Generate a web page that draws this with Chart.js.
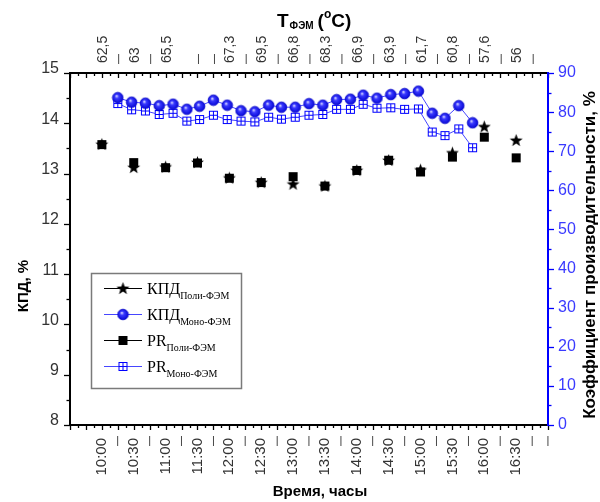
<!DOCTYPE html>
<html>
<head>
<meta charset="utf-8">
<script src="https://cdn.jsdelivr.net/npm/chart.js@4.4.1/dist/chart.umd.min.js"></script>
<style>
html,body{margin:0;padding:0;background:#ffffff;}
#box{position:relative;width:600px;height:502px;}
</style>
</head>
<body>
<div id="box"><canvas id="chart" width="600" height="502"></canvas></div>
<script>
// ---------------- data ----------------
const polyTimes = ['10:00','10:30','11:00','11:30','12:00','12:30','13:00','13:30','14:00','14:30','15:00','15:30','16:00','16:30'];
const kpdPoly = [13.58,13.12,13.13,13.22,12.91,12.82,12.79,12.75,13.06,13.26,13.07,13.41,13.93,13.66];
const prPoly  = [71.7,67.1,65.8,67.0,63.1,62.0,63.5,61.1,65.1,67.7,64.7,68.5,73.6,68.3];

const monoTimes = ['10:15','10:28','10:41','10:54','11:07','11:20','11:32','11:45','11:58','12:11','12:24','12:37','12:49','13:02','13:15','13:28','13:41','13:54','14:06','14:19','14:32','14:45','14:58','15:11','15:23','15:36','15:49'];
const kpdMono = [14.51,14.42,14.40,14.35,14.38,14.28,14.34,14.46,14.36,14.25,14.23,14.36,14.32,14.32,14.39,14.36,14.47,14.48,14.56,14.50,14.57,14.59,14.64,14.20,14.10,14.35,14.01];
const prMono  = [82.2,80.6,80.3,79.4,79.7,77.7,78.1,79.2,78.1,77.7,77.5,78.7,78.2,78.7,79.2,79.4,80.7,80.7,82.0,81.0,81.1,80.7,80.8,74.9,74.0,75.7,70.9];

const tickTimes    = ['10:00','10:15','10:30','10:45','11:00','11:15','11:30','11:45','12:00','12:15','12:30','12:45','13:00','13:15','13:30','13:45','14:00','14:15','14:30','14:45','15:00','15:15','15:30','15:45','16:00','16:15','16:30','16:45','17:00'];
const bottomLabels = ['10:00','|','10:30','|','11:00','|','11:30','|','12:00','|','12:30','|','13:00','|','13:30','|','14:00','|','14:30','|','15:00','|','15:30','|','16:00','|','16:30','|','|'];
const topLabels    = ['62,5','|','63','|','65,5','','|','|','67,3','|','69,5','|','66,8','|','68,3','|','66,9','|','63,9','|','61,7','|','60,8','|','57,6','|','56','|',''];

const seriesNames = ['КПД','КПД','PR','PR'];
const seriesSubs  = ['Поли-ФЭМ','Моно-ФЭМ','Поли-ФЭМ','Моно-ФЭМ'];

// ---------------- helpers ----------------
const toMin = t => { const [h,m] = t.split(':').map(Number); return h*60+m; };
const SANS = '"Liberation Sans", Arial, sans-serif';
const SERIF = '"Liberation Serif", "Times New Roman", serif';
const BLUE = '#0000ff';
const BLUE_LINE = '#4646ff';
const BLUE_TEXT = '#3a3aff';

function mk(w,h,fn){ const c=document.createElement('canvas'); c.width=w; c.height=h; fn(c.getContext('2d')); return c; }
const starImg = mk(15,15,g=>{
  g.fillStyle='#000'; g.beginPath();
  for(let i=0;i<10;i++){ const r = i%2===0?6.8:2.8; const a = -Math.PI/2 + i*Math.PI/5;
    g.lineTo(7.5+r*Math.cos(a), 7.8+r*Math.sin(a)); }
  g.closePath(); g.fill();
});
const sphereImg = mk(13,13,g=>{
  const gr = g.createRadialGradient(5.2,4.8,0.3,6.5,6.5,6);
  gr.addColorStop(0,'#d8d8ff'); gr.addColorStop(0.3,'#3a3aff'); gr.addColorStop(1,'#0000d0');
  g.fillStyle=gr; g.beginPath(); g.arc(6.5,6.5,5.3,0,Math.PI*2); g.fill();
  g.strokeStyle='#0000c8'; g.lineWidth=0.8; g.stroke();
});
const gridImg = mk(11,11,g=>{
  g.fillStyle='#fff'; g.fillRect(1,1,9,9);
  g.strokeStyle=BLUE; g.lineWidth=1;
  g.strokeRect(1.5,1.5,8,8);
  g.beginPath(); g.moveTo(5.5,1.5); g.lineTo(5.5,9.5); g.moveTo(1.5,5.5); g.lineTo(9.5,5.5); g.stroke();
});
const squareImg = mk(11,11,g=>{ g.fillStyle='#000'; g.fillRect(1,1,9,9); });

// rotated tick labels from Chart.js; the short separators '|' are written upright by the plugin
function labelFor(arr){
  return v => { const i = tickTimes.findIndex(t => toMin(t) === v); return (i >= 0 && arr[i] !== '|') ? arr[i] : ''; };
}

// ---------------- custom axes / titles / legend ----------------
const decor = {
  id: 'decor',
  afterDraw(chart){
    const {ctx, chartArea: a, scales} = chart;
    const xs = scales.x, yl = scales.yL, yr = scales.yR;
    ctx.save();
    ctx.strokeStyle = '#000'; ctx.lineWidth = 1.3;
    xs.ticks.forEach(t => {
      const px = Math.round(xs.getPixelForValue(t.value)) + 0.5;
      const major = t.value % 15 === 0;
      const len = major ? 5 : 3;
      ctx.beginPath(); ctx.moveTo(px, a.bottom); ctx.lineTo(px, a.bottom + len); ctx.stroke();
      ctx.beginPath(); ctx.moveTo(px, a.top); ctx.lineTo(px, a.top + len); ctx.stroke();
    });
    yl.ticks.forEach(t => {
      const py = Math.round(yl.getPixelForValue(t.value)) + 0.5;
      const major = Math.abs(t.value - Math.round(t.value)) < 1e-6;
      const len = major ? 6 : 3.5;
      ctx.beginPath(); ctx.moveTo(a.left, py); ctx.lineTo(a.left - len, py); ctx.stroke();
    });
    ctx.strokeStyle = BLUE;
    yr.ticks.forEach(t => {
      const py = Math.round(yr.getPixelForValue(t.value)) + 0.5;
      const major = t.value % 10 === 0;
      const len = major ? 6 : 3.5;
      ctx.beginPath(); ctx.moveTo(a.right, py); ctx.lineTo(a.right + len, py); ctx.stroke();
    });
    ctx.lineWidth = 2; ctx.strokeStyle = '#000';
    ctx.beginPath(); ctx.moveTo(a.left, a.top); ctx.lineTo(a.right, a.top); ctx.stroke();
    ctx.beginPath(); ctx.moveTo(a.left, a.bottom); ctx.lineTo(a.right, a.bottom); ctx.stroke();
    ctx.beginPath(); ctx.moveTo(a.left, a.top-1); ctx.lineTo(a.left, a.bottom+1); ctx.stroke();
    ctx.strokeStyle = BLUE;
    ctx.beginPath(); ctx.moveTo(a.right, a.top-1); ctx.lineTo(a.right, a.bottom+1); ctx.stroke();

    // '|' separators among the tick labels
    ctx.fillStyle = '#333'; ctx.textAlign = 'center'; ctx.textBaseline = 'middle';
    ctx.font = '11px ' + SANS;
    tickTimes.forEach((t, i) => {
      const px = xs.getPixelForValue(toMin(t));
      if (bottomLabels[i] === '|') ctx.fillText('|', px, a.bottom + 16);
      if (topLabels[i] === '|') ctx.fillText('|', px + 1, a.top - 14);
    });

    // axis titles
    ctx.fillStyle = '#000';
    ctx.textAlign = 'center'; ctx.textBaseline = 'middle';
    ctx.font = 'bold 15px ' + SANS;
    ctx.save(); ctx.translate(24, 286); ctx.rotate(-Math.PI/2); ctx.fillText('КПД, %', 0, 0); ctx.restore();
    ctx.font = 'bold 17px ' + SANS;
    ctx.save(); ctx.translate(590, 255); ctx.rotate(-Math.PI/2); ctx.fillText('Коэффициент производительности, %', 0, 0); ctx.restore();
    ctx.font = 'bold 15px ' + SANS;
    ctx.fillText('Время, часы', 320, 492);

    // top title  Т_ФЭМ (°C)
    ctx.textAlign = 'left'; ctx.textBaseline = 'alphabetic';
    let x = 277; const base = 27;
    ctx.font = 'bold 19px ' + SANS; ctx.fillText('Т', x, base); x += ctx.measureText('Т').width + 1;
    ctx.font = 'bold 10px ' + SANS; ctx.fillText('ФЭМ', x, base + 2); x += ctx.measureText('ФЭМ').width + 4;
    ctx.font = 'bold 19px ' + SANS; ctx.fillText('(', x, base); x += ctx.measureText('(').width;
    ctx.font = 'bold 12px ' + SANS; ctx.fillText('o', x, base - 9); x += ctx.measureText('o').width;
    ctx.font = 'bold 19px ' + SANS; ctx.fillText('C)', x, base);

    // legend
    const L = {x: 91, y: 273, w: 150, h: 115};
    ctx.strokeStyle = '#7a7a7a'; ctx.lineWidth = 1.5;
    ctx.strokeRect(L.x + 0.5, L.y + 0.5, L.w, L.h);
    const imgs = [starImg, sphereImg, squareImg, gridImg];
    const cols = ['#000', BLUE_LINE, '#000', BLUE_LINE];
    for (let i = 0; i < 4; i++) {
      const cy = L.y + 15 + i * 26;
      ctx.strokeStyle = cols[i]; ctx.lineWidth = 1;
      ctx.beginPath(); ctx.moveTo(104, cy + 0.5); ctx.lineTo(142, cy + 0.5); ctx.stroke();
      ctx.drawImage(imgs[i], 123 - imgs[i].width/2, cy - imgs[i].height/2 + 0.5);
      ctx.fillStyle = '#000';
      ctx.font = '16px ' + SERIF;
      ctx.fillText(seriesNames[i], 147, cy + 6);
      const w = ctx.measureText(seriesNames[i]).width;
      ctx.font = '10px ' + SERIF;
      ctx.fillText(seriesSubs[i], 147 + w, cy + 11);
    }
    ctx.restore();
  }
};

// ---------------- chart ----------------
const pts = (times, vals) => times.map((t, i) => ({x: toMin(t), y: vals[i]}));

new Chart(document.getElementById('chart'), {
  type: 'scatter',
  data: {
    datasets: [
      { label: 'КПД Поли-ФЭМ', data: pts(polyTimes, kpdPoly), yAxisID: 'yL', xAxisID: 'x',
        pointStyle: starImg, showLine: false, order: 3 },
      { label: 'КПД Моно-ФЭМ', data: pts(monoTimes, kpdMono), yAxisID: 'yL', xAxisID: 'x',
        pointStyle: sphereImg, showLine: true, borderColor: BLUE_LINE, borderWidth: 1, order: 1 },
      { label: 'PR Поли-ФЭМ', data: pts(polyTimes, prPoly), yAxisID: 'yR', xAxisID: 'x',
        pointStyle: squareImg, showLine: false, order: 2 },
      { label: 'PR Моно-ФЭМ', data: pts(monoTimes, prMono), yAxisID: 'yR', xAxisID: 'x',
        pointStyle: gridImg, showLine: true, borderColor: BLUE_LINE, borderWidth: 1, order: 4 }
    ]
  },
  options: {
    responsive: false, animation: false,
    layout: { padding: 0 },
    plugins: { legend: { display: false }, tooltip: { enabled: false } },
    scales: {
      x: {
        type: 'linear', position: 'bottom', min: 570, max: 1020,
        grid: { display: false, drawTicks: false }, border: { display: false },
        ticks: { stepSize: 7.5, autoSkip: false, minRotation: 90, maxRotation: 90, padding: 13,
                 color: '#333', font: { family: SANS, size: 15 }, callback: labelFor(bottomLabels) },
        afterFit: s => { s.height = 77; }
      },
      xTop: {
        type: 'linear', position: 'top', min: 570, max: 1020, display: true,
        grid: { display: false, drawTicks: false }, border: { display: false },
        ticks: { stepSize: 7.5, autoSkip: false, minRotation: 90, maxRotation: 90, padding: 10, labelOffset: 18,
                 color: '#333', font: { family: SANS, size: 14 }, callback: labelFor(topLabels) },
        afterFit: s => { s.height = 73; }
      },
      yL: {
        type: 'linear', position: 'left', min: 8, max: 15,
        grid: { display: false, drawTicks: false }, border: { display: false },
        ticks: { stepSize: 0.5, autoSkip: false, padding: 11, labelOffset: -4, color: '#333', font: { family: SANS, size: 16 },
                 callback: v => Number.isInteger(v) ? String(v) : '' },
        afterFit: s => { s.width = 70; }
      },
      yR: {
        type: 'linear', position: 'right', min: 0, max: 90,
        grid: { display: false, drawTicks: false }, border: { display: false },
        ticks: { stepSize: 5, autoSkip: false, padding: 10, color: BLUE_TEXT, font: { family: SANS, size: 16 },
                 callback: v => v % 10 === 0 ? String(v) : '' },
        afterFit: s => { s.width = 52; }
      }
    }
  },
  plugins: [decor]
});
</script>
</body>
</html>
